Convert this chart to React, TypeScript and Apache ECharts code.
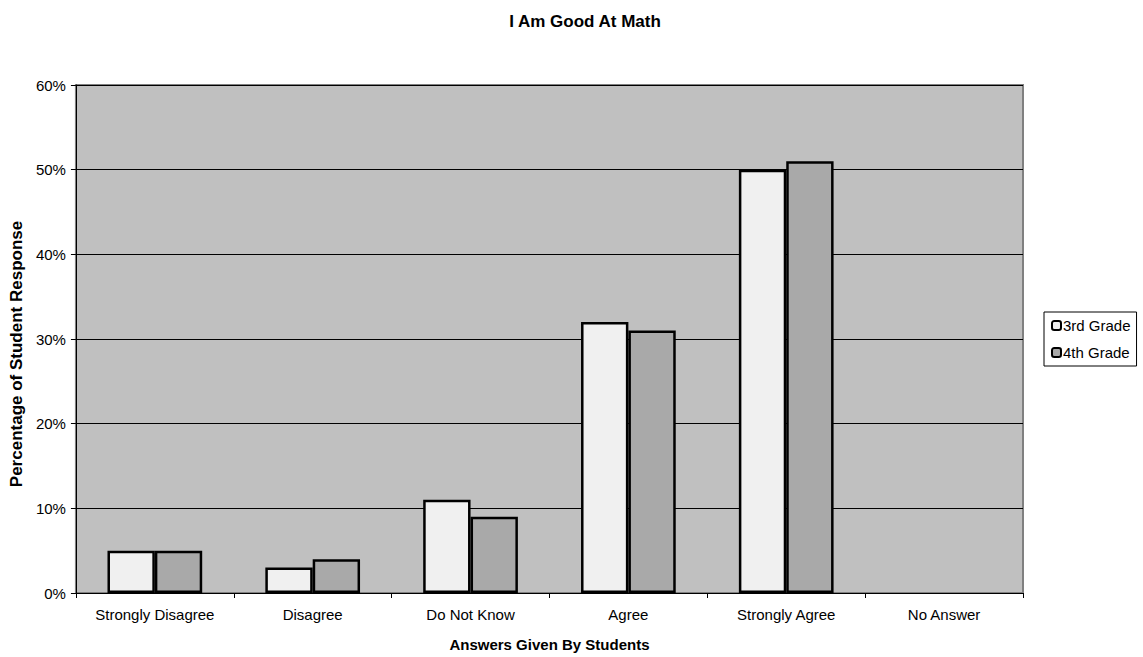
import React, { useEffect, useRef } from "react";
import * as echarts from "echarts";

const categories = ["Strongly Disagree", "Disagree", "Do Not Know", "Agree", "Strongly Agree", "No Answer"];
const grade3 = [5, 3, 11, 32, 50, 0];
const grade4 = [5, 4, 9, 31, 51, 0];
const seriesNames = ["3rd Grade", "4th Grade"];

const FONT = "Liberation Sans, Arial, sans-serif";

// Zero values get no outline, so an empty category stays empty.
const toBarData = (values: number[]) =>
  values.map((v) => (v === 0 ? { value: v, itemStyle: { borderWidth: 0, opacity: 0 } } : v));

export default function App() {
  const ref = useRef<HTMLDivElement>(null);

  useEffect(() => {
    if (!ref.current) return;
    const chart = echarts.init(ref.current, null, { renderer: "svg" });
    chart.setOption({
      animation: false,
      backgroundColor: "#ffffff",
      textStyle: { fontFamily: FONT },
      title: {
        text: "I Am Good At Math",
        left: 580,
        top: 8,
        textAlign: "center",
        textStyle: { fontFamily: FONT, fontSize: 17, fontWeight: "bold", color: "#000" },
      },
      legend: {
        orient: "vertical",
        left: 1044,
        top: 312,
        width: 95,
        padding: [6, 6, 6, 7],
        itemGap: 12,
        itemWidth: 9,
        itemHeight: 9,
        borderColor: "#000",
        borderWidth: 1,
        data: seriesNames,
        itemStyle: { borderWidth: 2 },
        textStyle: { fontFamily: FONT, fontSize: 15, color: "#000", padding: [0, 0, 0, -3] },
      },
      grid: {
        left: 75,
        top: 85,
        right: 120,
        bottom: 64,
        show: true,
        backgroundColor: "#c0c0c0",
        borderColor: "#808080",
        borderWidth: 2,
      },
      xAxis: {
        type: "category",
        data: categories,
        name: "Answers Given By Students",
        nameLocation: "middle",
        nameGap: 44,
        nameTextStyle: { fontFamily: FONT, fontSize: 15, fontWeight: "bold", color: "#000" },
        axisLine: { lineStyle: { color: "#000", width: 1 } },
        axisTick: { show: true, length: 5, lineStyle: { color: "#000" } },
        axisLabel: { fontFamily: FONT, fontSize: 15, color: "#000", margin: 14 },
      },
      yAxis: {
        type: "value",
        min: 0,
        max: 60,
        interval: 10,
        name: "Percentage of Student Response",
        nameLocation: "middle",
        nameGap: 48,
        nameTextStyle: {
          fontFamily: FONT,
          fontSize: 17,
          fontWeight: "bold",
          color: "#000",
          padding: [0, 30, 0, 0],
        },
        axisLine: { show: true, lineStyle: { color: "#000", width: 1 } },
        axisTick: { show: true, length: 5, lineStyle: { color: "#000" } },
        axisLabel: { fontFamily: FONT, fontSize: 15, color: "#000", margin: 10, formatter: "{value}%" },
        splitLine: { show: true, lineStyle: { color: "#000", width: 1 } },
      },
      series: [
        {
          name: seriesNames[0],
          type: "bar",
          data: toBarData(grade3),
          barGap: "0%",
          barCategoryGap: "40%",
          itemStyle: { color: "#f0f0f0", borderColor: "#000", borderWidth: 2.5 },
        },
        {
          name: seriesNames[1],
          type: "bar",
          data: toBarData(grade4),
          itemStyle: { color: "#a9a9a9", borderColor: "#000", borderWidth: 2.5 },
        },
      ],
    });
    return () => chart.dispose();
  }, []);

  return (
    <div
      ref={ref}
      style={{ position: "fixed", left: 0, top: 0, width: 1143, height: 657 }}
    />
  );
}
